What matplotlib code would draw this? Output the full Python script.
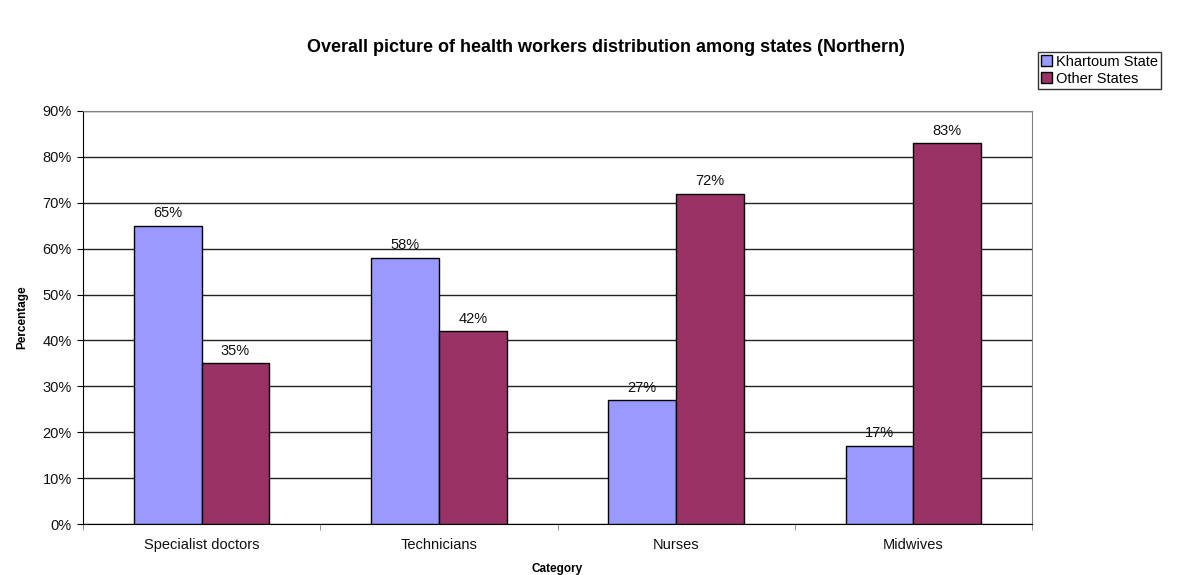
import matplotlib
matplotlib.use("Agg")
import matplotlib.pyplot as plt
import numpy as np
from matplotlib.ticker import FuncFormatter, MultipleLocator

plt.rcParams['font.family'] = ['Liberation Sans', 'DejaVu Sans']

categories = ["Specialist doctors", "Technicians", "Nurses", "Midwives"]
khartoum = [65, 58, 27, 17]
other = [35, 42, 72, 83]
series_names = ["Khartoum State", "Other States"]
colors = ["#9999FF", "#993366"]

fig = plt.figure(figsize=(11.86, 5.75), dpi=100)
ax = fig.add_axes([83/1186, 1-524/575, (1032-83)/1186, (524-111)/575])

x = np.arange(len(categories))
w = 1/3.5
b1 = ax.bar(x - w/2, khartoum, w, color=colors[0], edgecolor="black", linewidth=1, label=series_names[0], zorder=3)
b2 = ax.bar(x + w/2, other, w, color=colors[1], edgecolor="black", linewidth=1, label=series_names[1], zorder=3)

for bars, vals in ((b1, khartoum), (b2, other)):
    for r, v in zip(bars, vals):
        ax.annotate(f"{v}%", (r.get_x() + r.get_width()/2, v), xytext=(0, 4),
                    textcoords="offset points", ha="center", va="bottom", fontsize=10.5, color="#111111")

ax.set_xlim(-0.5, len(categories) - 0.5)
ax.set_ylim(0, 90)
ax.yaxis.set_major_locator(MultipleLocator(10))
ax.yaxis.set_major_formatter(FuncFormatter(lambda v, p: f"{v:.0f}%"))
ax.grid(axis="y", color="#222222", linewidth=1, zorder=0)
ax.set_xticks(x)
ax.set_xticklabels(categories, fontsize=10.5, color="#111111")
ax.set_xticks(np.arange(len(categories) + 1) - 0.5, minor=True)
ax.tick_params(axis="x", which="major", length=0, pad=10)
ax.tick_params(axis="x", which="minor", length=4, color="gray")
ax.tick_params(axis="y", labelsize=10.5, length=4, pad=4, labelcolor="#111111")
for s in ("top", "right"):
    ax.spines[s].set_color("gray")
for s in ("left", "bottom"):
    ax.spines[s].set_color("black")
ax.set_ylabel("Percentage", fontsize=8.5, fontweight="bold", labelpad=10)
ax.set_xlabel("Category", fontsize=8.5, fontweight="bold", labelpad=8)

fig.text(0.511, 1-48/575, "Overall picture of health workers distribution among states (Northern)",
         ha="center", va="center", fontsize=13, fontweight="bold")

fig.legend(loc="upper left", bbox_to_anchor=(1038/1186, 1-52/575), fontsize=10.5,
           frameon=True, fancybox=False, edgecolor="black", borderpad=0.2,
           handlelength=0.75, handleheight=0.75, handletextpad=0.3, labelspacing=0.2,
           borderaxespad=0)

fig.savefig("out.png", dpi=100)
